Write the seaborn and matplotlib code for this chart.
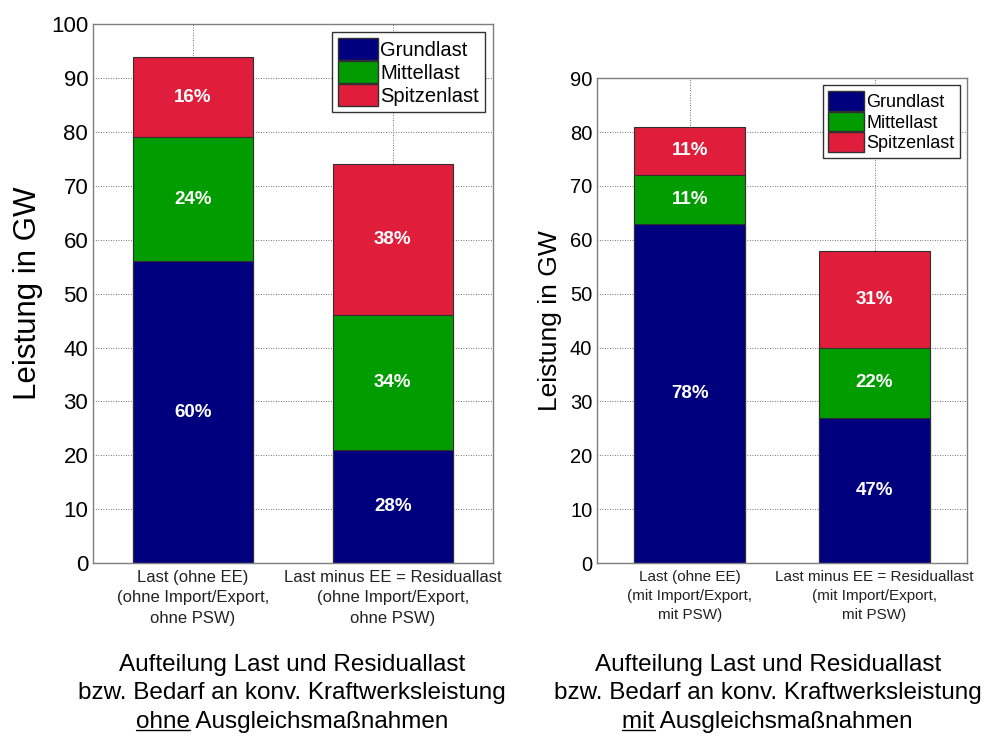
import numpy as np
import pandas as pd
import matplotlib
matplotlib.use("Agg")
import matplotlib.pyplot as plt
from matplotlib.patches import Patch
from matplotlib.lines import Line2D
from matplotlib import font_manager
import seaborn as sns

# Daten: Segmente in GW (von unten nach oben) und Prozentangaben
kategorien_ohne = ["Last (ohne EE)\n(ohne Import/Export,\nohne PSW)",
                   "Last minus EE = Residuallast\n(ohne Import/Export,\nohne PSW)"]
grund_ohne = [56, 21]
mittel_ohne = [23, 25]
spitzen_ohne = [15, 28]
pct_grund_ohne = ["60%", "28%"]
pct_mittel_ohne = ["24%", "34%"]
pct_spitzen_ohne = ["16%", "38%"]

kategorien_mit = ["Last (ohne EE)\n(mit Import/Export,\nmit PSW)",
                  "Last minus EE = Residuallast\n(mit Import/Export,\nmit PSW)"]
grund_mit = [63, 27]
mittel_mit = [9, 13]
spitzen_mit = [9, 18]
pct_grund_mit = ["78%", "47%"]
pct_mittel_mit = ["11%", "22%"]
pct_spitzen_mit = ["11%", "31%"]

serien = ["Grundlast", "Mittellast", "Spitzenlast"]
farben = {"Grundlast": "#00007f", "Mittellast": "#009c00", "Spitzenlast": "#e01e3c"}

sns.set_style("white")
verfuegbar = {f.name for f in font_manager.fontManager.ttflist}
SCHMAL = "Liberation Sans Narrow" if "Liberation Sans Narrow" in verfuegbar else "Liberation Sans"
plt.rcParams["font.family"] = ["Liberation Sans", "DejaVu Sans"]
plt.rcParams["text.color"] = "black"
plt.rcParams["axes.labelcolor"] = "black"
plt.rcParams["xtick.color"] = "black"
plt.rcParams["ytick.color"] = "black"


def gestapelt(ax, kategorien, grund, mittel, spitzen, pcts, ymax, tick_fs, kat_fs, ylab_fs, leg_fs):
    df = pd.DataFrame({"kat": kategorien, "Grundlast": grund,
                       "Mittellast": mittel, "Spitzenlast": spitzen})
    df["s1"] = df["Grundlast"]
    df["s2"] = df["s1"] + df["Mittellast"]
    df["s3"] = df["s2"] + df["Spitzenlast"]
    # von hinten nach vorne zeichnen, damit die Stapel entstehen
    for col, name in [("s3", "Spitzenlast"), ("s2", "Mittellast"), ("s1", "Grundlast")]:
        sns.barplot(data=df, x="kat", y=col, color=farben[name], width=0.6,
                    edgecolor="#303030", linewidth=0.8, saturation=1, ax=ax, zorder=2)
    unten = {"Grundlast": np.zeros(len(df)), "Mittellast": df["s1"].values,
             "Spitzenlast": df["s2"].values}
    for name in serien:
        for i in range(len(df)):
            y = unten[name][i] + df[name].iloc[i] / 2
            ax.text(i, y, pcts[name][i], ha="center", va="center", color="white",
                    fontsize=13.5, fontweight="bold", zorder=3)
    ax.set_xlim(-0.5, 1.5)
    ax.set_ylim(0, ymax)
    ax.set_yticks(np.arange(0, ymax + 1, 10))
    ax.grid(True, linestyle=(0, (1, 2)), color="#444444", linewidth=0.6)
    ax.set_axisbelow(True)
    ax.set_xlabel("")
    ax.set_ylabel("Leistung in GW", fontsize=ylab_fs, labelpad=6)
    ax.tick_params(axis="y", labelsize=tick_fs, direction="in", length=5, color="#777777")
    ax.tick_params(axis="x", labelsize=kat_fs, direction="in", length=0, pad=5)
    for lbl in ax.get_xticklabels():
        lbl.set_fontfamily(SCHMAL)
        lbl.set_linespacing(1.45)
        lbl.set_color("#222222")
    for sp in ax.spines.values():
        sp.set_color("#7f7f7f")
        sp.set_linewidth(1.0)
    handles = [Patch(facecolor=farben[n], edgecolor="#303030", label=n) for n in serien]
    ax.legend(handles=handles, loc="upper right", fontsize=leg_fs, frameon=True,
              fancybox=False, edgecolor="#333333", framealpha=1, handlelength=2.0,
              handleheight=1.3, handletextpad=0.1, labelspacing=0.05,
              borderpad=0.3, borderaxespad=0.4)


def unterschrift(fig, x, wort, fs=17.5):
    # drei Zeilen, das erste Wort der letzten Zeile unterstrichen
    fig.text(x, 0.099, "Aufteilung Last und Residuallast", ha="center", va="center",
             fontsize=fs, family=SCHMAL)
    fig.text(x, 0.061, "bzw. Bedarf an konv. Kraftwerksleistung", ha="center", va="center",
             fontsize=fs, family=SCHMAL)
    t = fig.text(x, 0.022, wort + " Ausgleichsmaßnahmen", ha="center", va="center",
                 fontsize=fs, family=SCHMAL)
    r = fig.canvas.get_renderer()
    bb = t.get_window_extent(r)
    tw = fig.text(0, 0, wort, fontsize=fs, family=SCHMAL)
    w = tw.get_window_extent(r).width
    tw.remove()
    W, H = fig.bbox.width, fig.bbox.height
    y = (bb.y0 + 3) / H
    fig.add_artist(Line2D([bb.x0 / W, (bb.x0 + w) / W], [y, y], color="black", lw=1.0))


fig = plt.figure(figsize=(9.97, 7.38), dpi=100)
ax1 = fig.add_axes([0.0933, 0.237, 0.401, 0.730])
ax2 = fig.add_axes([0.599, 0.237, 0.371, 0.657])

gestapelt(ax1, kategorien_ohne, grund_ohne, mittel_ohne, spitzen_ohne,
          {"Grundlast": pct_grund_ohne, "Mittellast": pct_mittel_ohne,
           "Spitzenlast": pct_spitzen_ohne},
          100, 16, 12, 22.5, 14.5)
gestapelt(ax2, kategorien_mit, grund_mit, mittel_mit, spitzen_mit,
          {"Grundlast": pct_grund_mit, "Mittellast": pct_mittel_mit,
           "Spitzenlast": pct_spitzen_mit},
          90, 14.5, 11, 19, 13)

unterschrift(fig, 0.293, "ohne")
unterschrift(fig, 0.770, "mit")

fig.savefig("out.png", dpi=100)
